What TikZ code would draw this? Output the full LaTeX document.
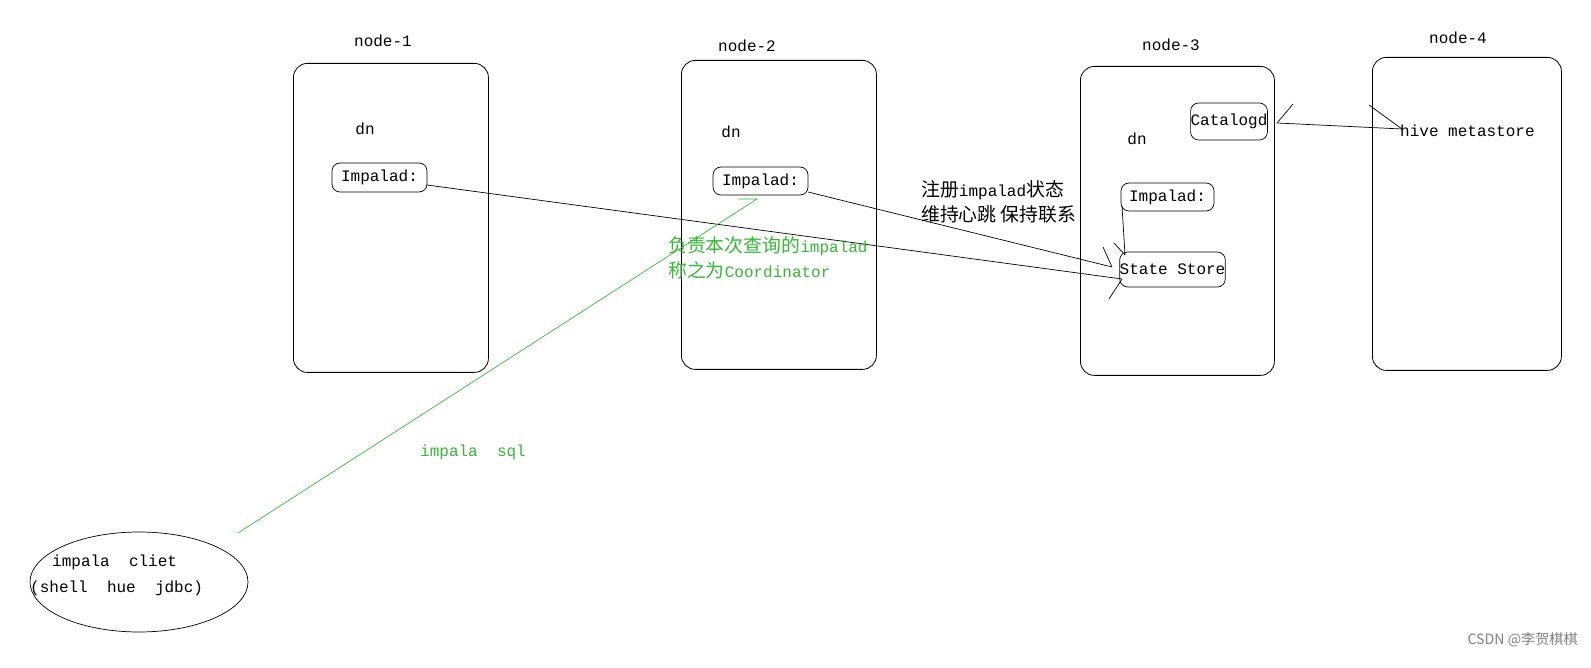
\documentclass[tikz,border=0pt]{standalone}
\usepackage{fontspec}
\usetikzlibrary{shapes.geometric}
\setmonofont{Liberation Mono}
\newfontfamily\cjk{Noto Sans CJK SC}[Scale=1.18]
\begin{document}
\begin{tikzpicture}[x=1pt,y=-1pt,
  lbl/.style={font=\fontsize{16}{18}\selectfont\ttfamily,inner sep=0pt},
  host/.style={draw,rounded corners=14pt,line width=0.8pt,anchor=north west,inner sep=0pt},
  sbox/.style={draw,rounded corners=8pt,line width=0.7pt,inner sep=0pt,font=\fontsize{16}{18}\selectfont\ttfamily},
  grn/.style={draw=green!65!black!80},
  ln/.style={line width=0.7pt}]
\useasboundingbox (0,0) rectangle (1591,668);
% hosts
\node[host,minimum width=195pt,minimum height=309pt] (h1) at (293,63) {};
\node[host,minimum width=195pt,minimum height=309pt] (h2) at (681,60) {};
\node[host,minimum width=194pt,minimum height=309pt] (h3) at (1080,66) {};
\node[host,minimum width=189pt,minimum height=313pt] (h4) at (1372,57) {};
\node[lbl] (l1) at (383,41) {node-1};
\node[lbl] (l2) at (747,46) {node-2};
\node[lbl] (l3) at (1171,45) {node-3};
\node[lbl] (l4) at (1458,38) {node-4};
\node[lbl] (d1) at (365,129) {dn};
\node[lbl] (d2) at (731,132) {dn};
\node[lbl] (d3) at (1137,139) {dn};
% boxes
\node[sbox,minimum width=95pt,minimum height=29pt] (i1) at (379.5,177.5) {Impalad:};
\node[sbox,minimum width=95pt,minimum height=28pt] (i2) at (760.5,181) {Impalad:};
\node[sbox,minimum width=93pt,minimum height=28pt] (i3) at (1167.5,197) {Impalad:};
\node[sbox,minimum width=105pt,minimum height=35pt] (ss) at (1172.5,269.5) {State Store};
\node[sbox,minimum width=70pt,minimum height=37pt] (cg) at (1229,121.5) {Catalogd};
\node[lbl,anchor=west] (hm) at (1400,131) {hive metastore};
% connectors
\coordinate (i1e) at (427,185);
\coordinate (i2e) at (808,192);
\coordinate (s1) at (1122,279);
\coordinate (s2) at (1112,267);
\coordinate (i3a) at (1122,206);
\coordinate (s3) at (1125,255);
\coordinate (ce) at (1277,123);
\coordinate (he) at (1402,129);
\draw[ln] (i1e) -- (s1);
\draw[ln] (i2e) -- (s2);
\draw[ln] (i3a) -- (s3);
\draw[ln] (ce) -- (he);
% hand-drawn arrow strokes
\draw[ln] (1103,247) -- (s2);
\draw[ln] (1114,243) -- (s3);
\draw[ln] (1109,299) -- (s1);
\draw[ln] (1293,104) -- (ce);
\draw[ln] (1369,105) -- (he);
% client
\node[draw,ellipse,line width=0.7pt,minimum width=218pt,minimum height=100pt] (cl) at (139,582) {};
\node[lbl,anchor=base west] (ct1) at (52,566) {impala\ \ cliet};
\node[lbl,anchor=base west] (ct2) at (30,592) {(shell\ \ hue\ \ jdbc)};
\coordinate (g1) at (757,199);
\coordinate (g0) at (738,199);
\coordinate (ge) at (238,533);
\draw[grn,line width=0.7pt] (g0) -- (g1) -- (ge);
\node[lbl,anchor=base west,text=green!65!black!80] (gs) at (420,456) {impala\ \ sql};
\node[lbl,anchor=base west,text=green!65!black!80,align=left] (gt1) at (668,253) {{\cjk 负责本次查询的}impalad};
\node[lbl,anchor=base west,text=green!65!black!80] (gt2) at (668,278) {{\cjk 称之为}Coordinator};
\node[lbl,anchor=base west] (bt1) at (921,197) {{\cjk 注册}impalad{\cjk 状态}};
\node[lbl,anchor=base west] (bt2) at (921,222) {{\cjk 维持心跳 保持联系}};
\node[anchor=base east,text=gray,font=\cjk\fontsize{12}{14}\selectfont,inner sep=0pt] (wm) at (1578,644) {CSDN @李贺棋棋};
\end{tikzpicture}
\end{document}
